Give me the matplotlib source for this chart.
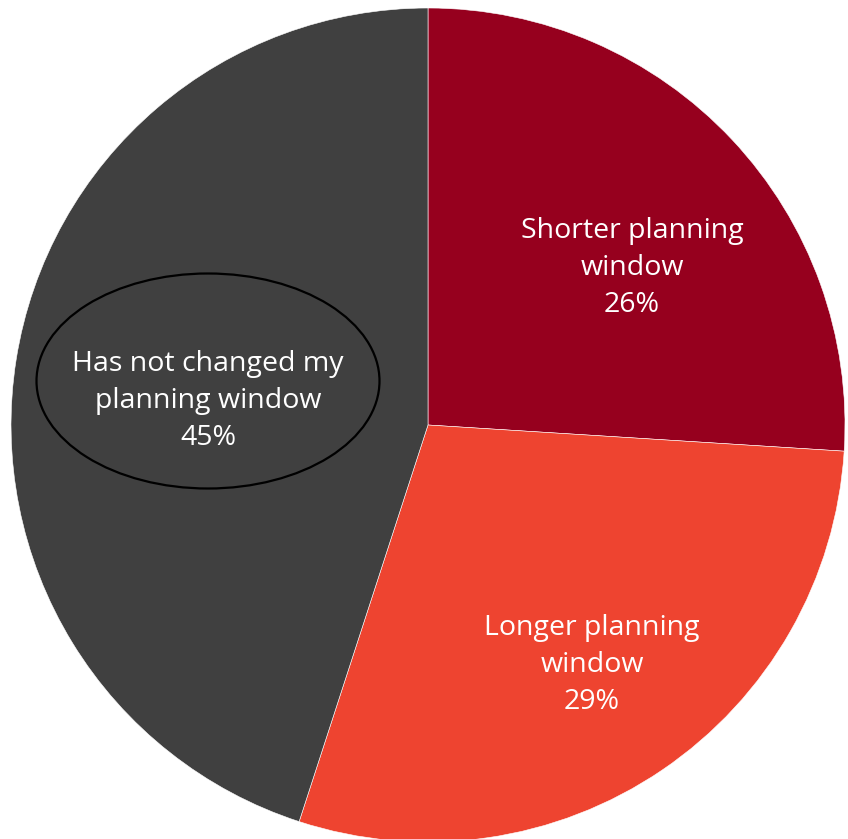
import matplotlib
matplotlib.use("Agg")
import matplotlib.pyplot as plt
from matplotlib.patches import Ellipse

# data
labels = ["Shorter planning\nwindow", "Longer planning\nwindow", "Has not changed my\nplanning window"]
shares = [26, 29, 45]
colors = ["#96001E", "#EE4430", "#404040"]

W, H = 848, 839
fig = plt.figure(figsize=(W / 100, H / 100), dpi=100)
ax = fig.add_axes([0, 0, 1, 1])

cx, cy, r = 428, H - 425, 417
ax.pie(shares, colors=colors, startangle=90, counterclock=False,
       center=(cx, cy), radius=r, frame=True,
       wedgeprops=dict(linewidth=0.4, edgecolor="white"))
ax.set_xlim(0, W)
ax.set_ylim(0, H)
ax.set_aspect("equal")
ax.axis("off")

# label positions (pixels from top-left)
label_pos = [(632, 268), (592, 665), (208, 401)]
for lab, val, (x, y) in zip(labels, shares, label_pos):
    ax.text(x, H - y, f"{lab}\n{val}%", ha="center", va="center",
            color="white", fontsize=20.5, family="Open Sans", linespacing=1.43)

ax.add_patch(Ellipse((208, H - 381), 343, 215, facecolor="none",
                     edgecolor="black", linewidth=1.6))

fig.savefig("out.png", dpi=100)
